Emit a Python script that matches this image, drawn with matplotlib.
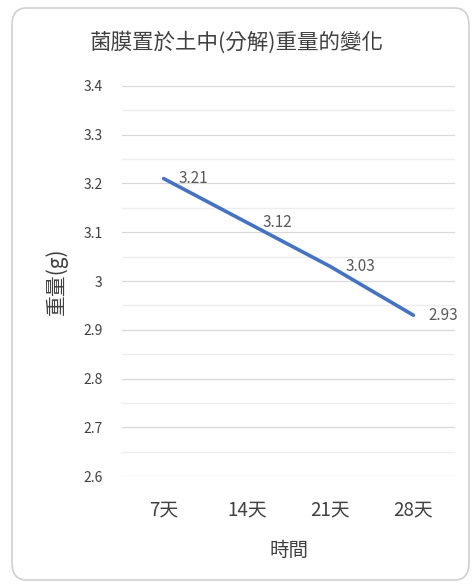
import matplotlib
matplotlib.use("Agg")
import matplotlib.pyplot as plt
from matplotlib.patches import FancyBboxPatch
from matplotlib.ticker import MultipleLocator, FuncFormatter

plt.rcParams['font.family'] = ['Noto Sans CJK TC', 'DejaVu Sans']

days = ["7天", "14天", "21天", "28天"]
weight = [3.21, 3.12, 3.03, 2.93]
title = "菌膜置於土中(分解)重量的變化"

fig = plt.figure(figsize=(4.73, 5.88), dpi=100)

# rounded chart border, kept behind the axes
border = FancyBboxPatch((12 / 473, 8 / 588), 457 / 473, 572 / 588,
                        boxstyle="round,pad=0,rounding_size=0.03",
                        transform=fig.transFigure, facecolor="white",
                        edgecolor="#d0d0d0", linewidth=1.2, zorder=-5)
fig.patches.append(border)

ax = fig.add_axes([0.258, 0.19, 0.704, 0.664])
ax.set_facecolor("none")

x = list(range(len(days)))
ax.plot(x, weight, color="#4472C4", linewidth=2.6, solid_capstyle="round")
for xi, yi in zip(x, weight):
    ax.annotate(f"{yi:.2f}", (xi, yi), xytext=(11, 0), textcoords="offset points",
                ha="left", va="center", fontsize=11, color="#595959")

ax.set_xlim(-0.5, 3.5)
ax.set_ylim(2.6, 3.4)
ax.set_xticks(x)
ax.set_xticklabels(days, fontsize=13.5, color="#404040")
ax.yaxis.set_major_locator(MultipleLocator(0.1))
ax.yaxis.set_minor_locator(MultipleLocator(0.05))
ax.yaxis.set_major_formatter(FuncFormatter(lambda v, p: f"{round(v, 2):g}"))
ax.tick_params(axis="y", labelsize=10, labelcolor="#404040", pad=14)
ax.tick_params(axis="x", pad=17)
ax.tick_params(axis="both", which="both", length=0)

ax.grid(True, which="major", axis="y", color="#d9d9d9", linewidth=0.9)
ax.grid(True, which="minor", axis="y", color="#ededed", linewidth=0.9)
ax.set_axisbelow(True)
for s in ax.spines.values():
    s.set_visible(False)

ax.set_xlabel("時間", fontsize=14, color="#404040", labelpad=14)
ax.set_ylabel("重量(g)", fontsize=15, color="#404040", labelpad=11)
fig.text(0.5, 1 - 43 / 588, title, ha="center", va="center",
         fontsize=15.5, color="#404040")

fig.savefig("out.png", dpi=100)
